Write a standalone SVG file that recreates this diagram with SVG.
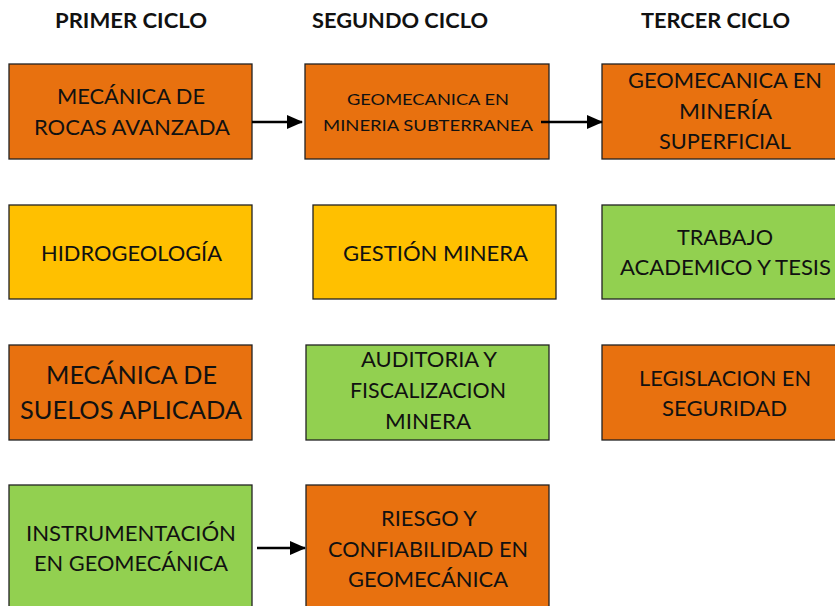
<svg xmlns="http://www.w3.org/2000/svg" width="835" height="606" viewBox="0 0 835 606">
<defs>
<style>
.box{stroke:#222;stroke-width:1.3}
.or{fill:#E8710F}
.ye{fill:#FFC000}
.gr{fill:#92D050}
.t{font-family:Lato,"Open Sans","Liberation Sans",sans-serif;fill:#111;text-anchor:middle}
.h{font-family:Lato,"Open Sans","Liberation Sans",sans-serif;font-weight:bold;fill:#111;text-anchor:middle;font-size:20px}
.c{stroke:#000;stroke-width:2.5;fill:none}
</style>
<marker id="ah" markerWidth="16" markerHeight="14" refX="15" refY="7" orient="auto" markerUnits="userSpaceOnUse" viewBox="0 0 16 14">
<path d="M0,0 L16,7 L0,14 z" fill="#000"/>
</marker>
</defs>
<rect width="835" height="606" fill="#fff"/>
<g id="headers">
<text class="h" x="131" y="28" textLength="152" lengthAdjust="spacingAndGlyphs">PRIMER CICLO</text>
<text class="h" x="400" y="28" textLength="176" lengthAdjust="spacingAndGlyphs">SEGUNDO CICLO</text>
<text class="h" x="715.5" y="28" textLength="149" lengthAdjust="spacingAndGlyphs">TERCER CICLO</text>
</g>
<g id="n1"><rect class="box or" x="9" y="64" width="243" height="95"/>
<text class="t" font-size="21" x="131" y="104" textLength="148" lengthAdjust="spacingAndGlyphs">MECÁNICA DE</text>
<text class="t" font-size="21" x="132" y="135" textLength="196" lengthAdjust="spacingAndGlyphs">ROCAS AVANZADA</text></g>
<g id="n2"><rect class="box or" x="305" y="64" width="244" height="95"/>
<text class="t" font-size="15" x="428" y="105" textLength="162" lengthAdjust="spacingAndGlyphs">GEOMECANICA EN</text>
<text class="t" font-size="15" x="428" y="131" textLength="210" lengthAdjust="spacingAndGlyphs">MINERIA SUBTERRANEA</text></g>
<g id="n3"><rect class="box or" x="602" y="64" width="246" height="95"/>
<text class="t" font-size="21" x="725" y="88" textLength="194" lengthAdjust="spacingAndGlyphs">GEOMECANICA EN</text>
<text class="t" font-size="21" x="725.5" y="119" textLength="93" lengthAdjust="spacingAndGlyphs">MINERÍA</text>
<text class="t" font-size="21" x="725" y="149" textLength="132" lengthAdjust="spacingAndGlyphs">SUPERFICIAL</text></g>
<g id="n4"><rect class="box ye" x="9" y="205" width="243" height="94"/>
<text class="t" font-size="21" x="131.5" y="261" textLength="181" lengthAdjust="spacingAndGlyphs">HIDROGEOLOGÍA</text></g>
<g id="n5"><rect class="box ye" x="313" y="205" width="243" height="94"/>
<text class="t" font-size="21" x="435.5" y="261" textLength="185" lengthAdjust="spacingAndGlyphs">GESTIÓN MINERA</text></g>
<g id="n6"><rect class="box gr" x="602" y="205" width="246" height="94"/>
<text class="t" font-size="21" x="725" y="245" textLength="96" lengthAdjust="spacingAndGlyphs">TRABAJO</text>
<text class="t" font-size="21" x="725.5" y="275" textLength="211" lengthAdjust="spacingAndGlyphs">ACADEMICO Y TESIS</text></g>
<g id="n7"><rect class="box or" x="9" y="345" width="243" height="95"/>
<text class="t" font-size="25" x="131.5" y="384" textLength="171" lengthAdjust="spacingAndGlyphs">MECÁNICA DE</text>
<text class="t" font-size="25" x="131" y="419" textLength="222" lengthAdjust="spacingAndGlyphs">SUELOS APLICADA</text></g>
<g id="n8"><rect class="box gr" x="306" y="345" width="243" height="95"/>
<text class="t" font-size="21" x="429" y="367" textLength="136" lengthAdjust="spacingAndGlyphs">AUDITORIA Y</text>
<text class="t" font-size="21" x="428" y="398" textLength="156" lengthAdjust="spacingAndGlyphs">FISCALIZACION</text>
<text class="t" font-size="21" x="428" y="429" textLength="86" lengthAdjust="spacingAndGlyphs">MINERA</text></g>
<g id="n9"><rect class="box or" x="602" y="345" width="246" height="95"/>
<text class="t" font-size="21" x="725" y="386" textLength="172" lengthAdjust="spacingAndGlyphs">LEGISLACION EN</text>
<text class="t" font-size="21" x="724.5" y="416" textLength="125" lengthAdjust="spacingAndGlyphs">SEGURIDAD</text></g>
<g id="n10"><rect class="box gr" x="9" y="485" width="243" height="130"/>
<text class="t" font-size="21" x="131" y="541" textLength="210" lengthAdjust="spacingAndGlyphs">INSTRUMENTACIÓN</text>
<text class="t" font-size="21" x="131" y="571" textLength="194" lengthAdjust="spacingAndGlyphs">EN GEOMECÁNICA</text></g>
<g id="n11"><rect class="box or" x="306" y="485" width="243" height="130"/>
<text class="t" font-size="21" x="429" y="526" textLength="96" lengthAdjust="spacingAndGlyphs">RIESGO Y</text>
<text class="t" font-size="21" x="428" y="557" textLength="200" lengthAdjust="spacingAndGlyphs">CONFIABILIDAD EN</text>
<text class="t" font-size="21" x="428" y="587" textLength="160" lengthAdjust="spacingAndGlyphs">GEOMECÁNICA</text></g>
<g id="connectors">
<line class="c" x1="252" y1="122" x2="302" y2="122" marker-end="url(#ah)"/>
<line class="c" x1="541" y1="122" x2="602" y2="122" marker-end="url(#ah)"/>
<line class="c" x1="257" y1="548" x2="305" y2="548" marker-end="url(#ah)"/>
</g>
</svg>
